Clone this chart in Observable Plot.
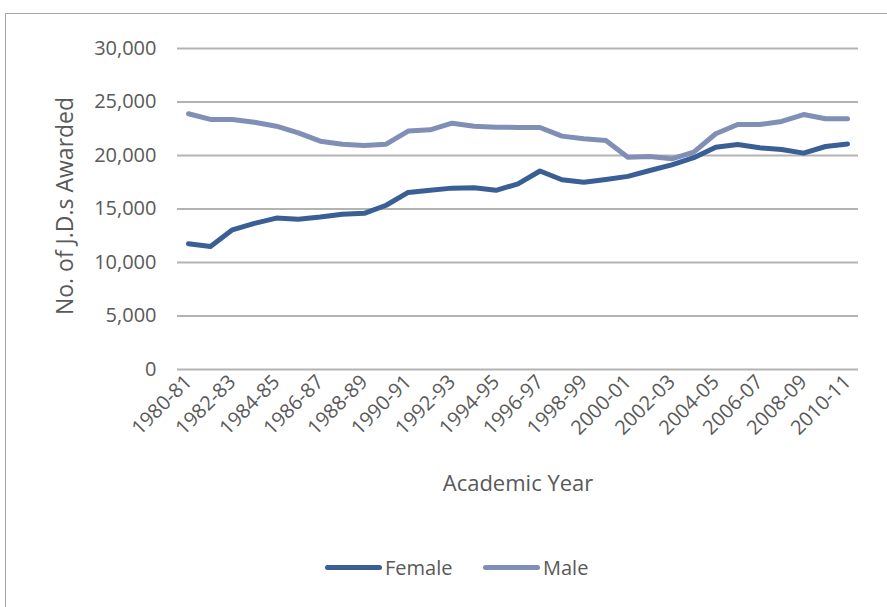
<!DOCTYPE html>
<html>
<head>
<meta charset="utf-8">
<script src="https://cdn.jsdelivr.net/npm/d3@7"></script>
<script src="https://cdn.jsdelivr.net/npm/@observablehq/plot@0.6"></script>
<style>
  html, body { margin: 0; padding: 0; background: #fff; overflow: hidden; width: 887px; height: 607px; }
  #frame { position: absolute; left: 5px; top: 13px; width: 900px; height: 620px; border: 1.5px solid #a6a6a6; box-sizing: border-box; }
  #chart { position: absolute; left: 0; top: 0; }
  #legend { position: absolute; left: 0; top: 552px; width: 887px; font-family: "Open Sans", sans-serif; font-size: 20px; color: #595959; }
  .item { position: absolute; top: 0; display: flex; align-items: center; height: 30px; }
  .swatch { width: 57px; height: 5px; border-radius: 3px; margin-right: 3px; }
</style>
</head>
<body>
<div id="frame"></div>
<div id="chart"></div>
<div id="legend"></div>
<script>
const years = ["1980-81","1981-82","1982-83","1983-84","1984-85","1985-86","1986-87","1987-88","1988-89","1989-90",
  "1990-91","1991-92","1992-93","1993-94","1994-95","1995-96","1996-97","1997-98","1998-99","1999-00",
  "2000-01","2001-02","2002-03","2003-04","2004-05","2005-06","2006-07","2007-08","2008-09","2009-10","2010-11"];
const female = [11750, 11500, 13050, 13650, 14150, 14050, 14250, 14500, 14600, 15350,
  16550, 16750, 16950, 16980, 16750, 17350, 18550, 17730, 17500, 17760,
  18050, 18600, 19130, 19800, 20780, 21030, 20720, 20560, 20220, 20840, 21080];
const male = [23900, 23370, 23370, 23110, 22740, 22120, 21340, 21060, 20940, 21060,
  22280, 22400, 23020, 22740, 22650, 22620, 22620, 21810, 21560, 21400,
  19840, 19900, 19690, 20310, 22030, 22900, 22900, 23180, 23830, 23430, 23430];
const seriesNames = ["Female", "Male"];
const seriesColors = ["#3a5f96", "#808fb6"];
const yTicks = [0, 5000, 10000, 15000, 20000, 25000, 30000];
const xTicks = years.filter((d, i) => i % 2 === 0);
const xTitle = "Academic Year";
const yTitle = "No. of J.D.s Awarded";

const data = years.flatMap((y, i) => [
  {year: y, value: female[i], series: seriesNames[0]},
  {year: y, value: male[i], series: seriesNames[1]}
]);

const chart = Plot.plot({
  width: 887,
  height: 500,
  marginLeft: 177,
  marginRight: 29,
  marginTop: 48,
  marginBottom: 131,
  style: {fontFamily: "Open Sans, sans-serif", fontSize: "19px", color: "#595959", background: "transparent", overflow: "visible"},
  x: {type: "point", domain: years, padding: 0.5, round: false, label: null},
  y: {domain: [0, 30000], label: null},
  color: {domain: seriesNames, range: seriesColors},
  marks: [
    Plot.gridY(yTicks, {stroke: "#b3b3b3", strokeOpacity: 1, strokeWidth: 2}),
    Plot.axisY(yTicks, {tickSize: 0, tickPadding: 21, tickFormat: d3.format(","), fontSize: 20, label: null, fill: "#595959"}),
    Plot.axisX(xTicks, {tickSize: 0, tickRotate: -45, tickPadding: 9, fontSize: 20, label: null, fill: "#595959"}),
    Plot.line(data, {x: "year", y: "value", stroke: "series", strokeWidth: 5, strokeLinejoin: "round", strokeLinecap: "round"}),
    Plot.text([xTitle], {frameAnchor: "bottom", dy: 121, fontSize: 22, fill: "#595959"}),
    Plot.text([yTitle], {frameAnchor: "left", dx: -112, dy: -3, rotate: -90, textAnchor: "middle", fontSize: 23, fill: "#595959"})
  ]
});
document.getElementById("chart").appendChild(chart);

const legend = document.getElementById("legend");
const lefts = [325, 483];
seriesNames.forEach((name, i) => {
  const item = document.createElement("div");
  item.className = "item";
  item.style.left = lefts[i] + "px";
  const sw = document.createElement("div");
  sw.className = "swatch";
  sw.style.background = seriesColors[i];
  const label = document.createElement("span");
  label.textContent = name;
  item.appendChild(sw);
  item.appendChild(label);
  legend.appendChild(item);
});
</script>
</body>
</html>
